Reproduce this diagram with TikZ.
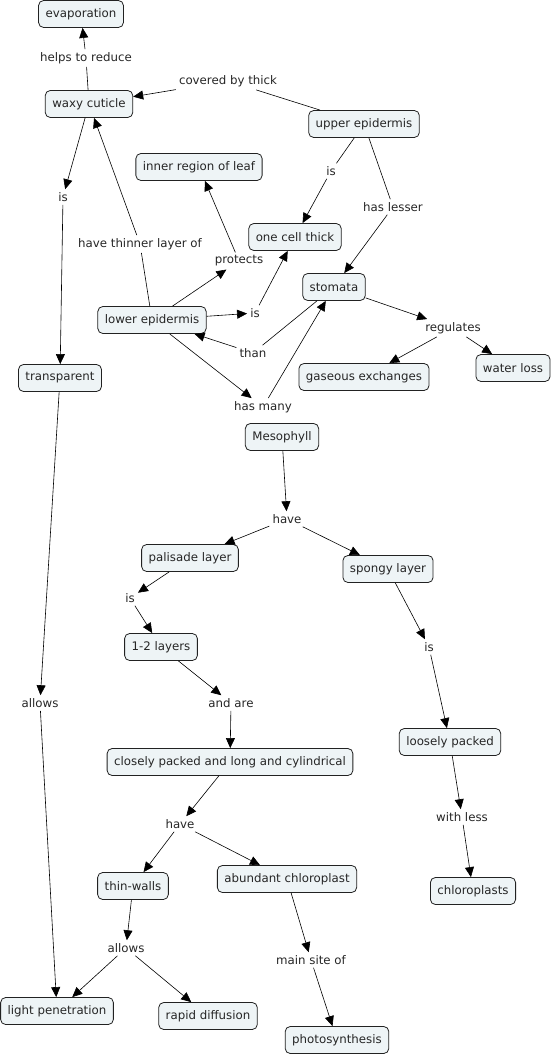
\documentclass[tikz,border=0pt]{standalone}
\usepackage{fontspec}
\setmainfont{DejaVu Sans}
\usetikzlibrary{arrows.meta}

\definecolor{cfill}{HTML}{EEF4F6}
\definecolor{cline}{HTML}{222222}

\begin{document}
\begin{tikzpicture}[x=1pt, y=-1pt,
  concept/.style={draw=cline, line width=0.8pt, fill=cfill, rounded corners=5pt, minimum height=27pt, inner xsep=7pt, font=\fontsize{11.8}{14}\selectfont, text=black!85},
  linkph/.style={inner sep=3pt, font=\fontsize{11.8}{14}\selectfont, text=black!85},
  conn/.style={draw=black, line width=0.6pt},
  arrow/.style={conn, -{Triangle[length=10pt, width=9pt]}},
]
\useasboundingbox (0,0) rectangle (555,1056);

% === Concepts ===
\node[concept] (evap) at (81,14) {evaporation};
\node[concept] (waxy) at (89,104) {waxy cuticle};
\node[concept] (upper) at (364,124) {upper epidermis};
\node[concept] (inner) at (199,167) {inner region of leaf};
\node[concept] (onecell) at (295,237) {one cell thick};
\node[concept] (stomata) at (334,287) {stomata};
\node[concept] (lower) at (152,320) {lower epidermis};
\node[concept] (gas) at (364,377) {gaseous exchanges};
\node[concept] (water) at (513,368) {water loss};
\node[concept] (transp) at (60,378) {transparent};
\node[concept] (meso) at (282,437) {Mesophyll};
\node[concept] (palisade) at (190,558) {palisade layer};
\node[concept] (spongy) at (388,569) {spongy layer};
\node[concept] (layers) at (161,647) {1-2 layers};
\node[concept] (loosely) at (450,742) {loosely packed};
\node[concept] (closely) at (230,762) {closely packed and long and cylindrical};
\node[concept] (thin) at (133,886) {thin-walls};
\node[concept] (abund) at (287,879) {abundant chloroplast};
\node[concept] (chloro) at (473,891) {chloroplasts};
\node[concept] (light) at (57,1011) {light penetration};
\node[concept] (rapid) at (208,1016) {rapid diffusion};
\node[concept] (photo) at (337,1040) {photosynthesis};

% === Linking phrases ===
\node[linkph] (lhelps) at (86,58) {helps to reduce};
\node[linkph] (lcovered) at (228,81) {covered by thick};
\node[linkph] (lis1) at (63,197) {is};
\node[linkph] (lis2) at (331,171) {is};
\node[linkph] (lhasless) at (393,207) {has lesser};
\node[linkph] (lthinner) at (140,244) {have thinner layer of};
\node[linkph] (lprotects) at (239,261) {protects};
\node[linkph] (lis3) at (255,313) {is};
\node[linkph] (lthan) at (253,353) {than};
\node[linkph] (lregul) at (453,328) {regulates};
\node[linkph] (lhasmany) at (263,407) {has many};
\node[linkph] (lallows1) at (40,703) {allows};
\node[linkph] (lhave1) at (287,519) {have};
\node[linkph] (lis4) at (130,598) {is};
\node[linkph] (lis5) at (429,647) {is};
\node[linkph] (landare) at (231,703) {and are};
\node[linkph] (lwithless) at (462,817) {with less};
\node[linkph] (lhave2) at (180,824) {have};
\node[linkph] (lallows2) at (126,948) {allows};
\node[linkph] (lmain) at (311,960) {main site of};

% === Connectors, upper part ===
\draw[conn] (waxy) -- (lhelps);
\draw[arrow] (lhelps) -- (evap);
\draw[conn] (upper) -- (lcovered);
\draw[arrow] (lcovered) -- (waxy);
\draw[arrow] (waxy) -- (lis1);
\draw[arrow] (lis1) -- (transp);
\draw[arrow] (transp) -- (lallows1);
\draw[arrow] (lallows1) -- (light);
\draw[conn] (upper) -- (lis2);
\draw[arrow] (lis2) -- (onecell);
\draw[conn] (upper) -- (lhasless);
\draw[arrow] (lhasless) -- (stomata);
\draw[conn] (lower) -- (lthinner);
\draw[arrow] (lthinner) -- (waxy);
\draw[arrow] (lower) -- (lprotects);
\draw[arrow] (lprotects) -- (inner);
\draw[arrow] (lower) -- (lis3);
\draw[arrow] (lis3) -- (onecell);
\draw[conn] (stomata) -- (lthan);
\draw[arrow] (lthan) -- (lower);
\draw[arrow] (lower) -- (lhasmany);
\draw[arrow] (lhasmany) -- (stomata);
\draw[arrow] (stomata) -- (lregul);
\draw[arrow] (lregul) -- (gas);
\draw[arrow] (lregul) -- (water);

% === Connectors, mesophyll ===
\draw[arrow] (meso) -- (lhave1);
\draw[arrow] (lhave1) -- (palisade);
\draw[arrow] (lhave1) -- (spongy);
\draw[arrow] (palisade) -- (lis4);
\draw[arrow] (lis4) -- (layers);
\draw[arrow] (layers) -- (landare);
\draw[arrow] (landare) -- (closely);
\draw[arrow] (closely) -- (lhave2);
\draw[arrow] (lhave2) -- (thin);
\draw[arrow] (lhave2) -- (abund);
\draw[arrow] (thin) -- (lallows2);
\draw[arrow] (lallows2) -- (light);
\draw[arrow] (lallows2) -- (rapid);
\draw[arrow] (abund) -- (lmain);
\draw[arrow] (lmain) -- (photo);
\draw[arrow] (spongy) -- (lis5);
\draw[arrow] (lis5) -- (loosely);
\draw[arrow] (loosely) -- (lwithless);
\draw[arrow] (lwithless) -- (chloro);

\end{tikzpicture}
\end{document}
